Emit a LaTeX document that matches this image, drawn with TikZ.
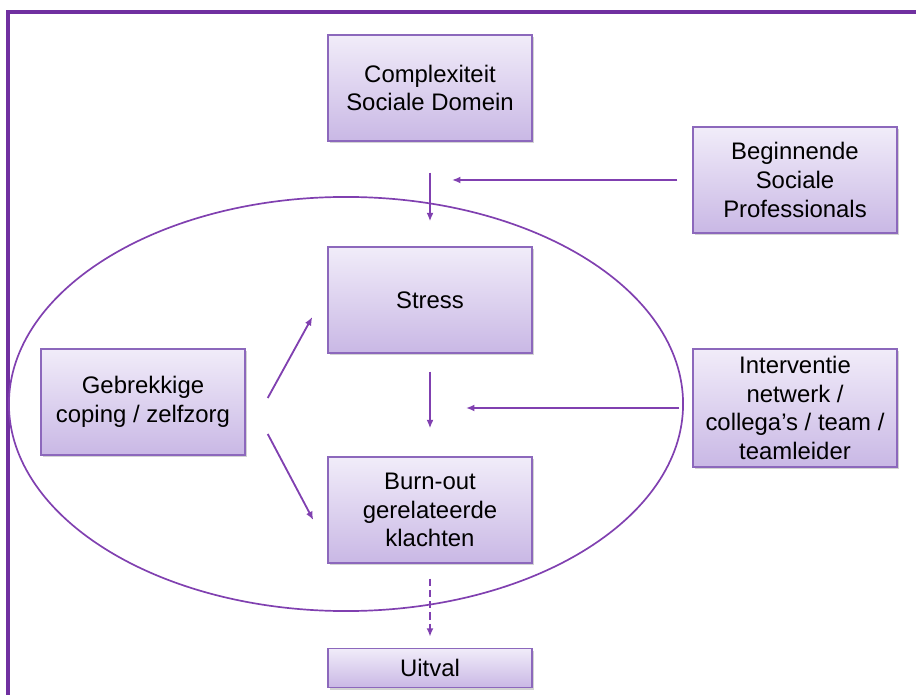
\documentclass[tikz,border=0pt]{standalone}
\usepackage{fontspec}
\setmainfont{Liberation Sans}
\usetikzlibrary{positioning,shadows,arrows.meta,calc}

\definecolor{framepurple}{RGB}{112,48,160}
\definecolor{linepurple}{RGB}{128,64,176}
\definecolor{boxborder}{RGB}{140,104,188}
\definecolor{boxtop}{RGB}{241,236,249}
\definecolor{boxbottom}{RGB}{201,184,229}

\tikzset{
  box/.style={draw=boxborder, line width=1pt, top color=boxtop, bottom color=boxbottom,
    drop shadow={shadow xshift=1.5pt, shadow yshift=-1.5pt, opacity=0.35},
    minimum width=5.1cm, minimum height=2.65cm, align=center,
    font=\fontsize{17}{20.5}\selectfont, inner sep=2pt},
  arr/.style={draw=linepurple, line width=1.3pt, -{Latex[length=6pt,width=5pt]}}
}

\begin{document}
\begin{tikzpicture}[x=0.025cm,y=-0.025cm]
\useasboundingbox (0,0) rectangle (916,695);

% outer frame (only top and left visible)
\draw[line width=2.2pt, color=framepurple](8,695) -- (8,12) -- (916,12);

% ellipse
\draw[line width=1.2pt, color=linepurple](346,404) ellipse [x radius=8.425cm, y radius=5.175cm];

% boxes
\node[box] (compl) at (430,88) {Complexiteit\\Sociale Domein};
\node[box] (begin) at (795,180) {Beginnende\\Sociale\\Professionals};
\node[box] (stress) at (430,300) {Stress};
\node[box] (geb) at (143,402) {Gebrekkige\\coping / zelfzorg};
\node[box, minimum height=2.95cm] (interv) at (795,408) {Interventie\\netwerk /\\collega\char"0027 s / team /\\teamleider};
\node[box] (burn) at (430,510) {Burn-out\\gerelateerde\\klachten};
\node[box, minimum height=0.98cm] (uitval) at (430,668) {Uitval};

% arrows
\draw[arr, shorten <=0.775cm, shorten >=0.625cm] (compl.south) -- (stress.north);
\draw[arr, shorten <=0.375cm, shorten >=0.55cm] (begin.west) -- (compl.south |- begin.west);
\draw[arr, shorten <=0.45cm, shorten >=0.7cm] (stress.south) -- (burn.north);
\draw[arr, shorten <=0.325cm, shorten >=0.9cm] (interv.west) -- (stress.south |- interv.west);
\draw[arr] ($(geb.east)+(22,-4)$) -- ($(stress.west)+(-15,17)$);
\draw[arr] ($(geb.east)+(22,32)$) -- ($(burn.west)+(-14,10)$);
\draw[arr, dashed, dash pattern=on 5pt off 3pt, shorten <=0.375cm, shorten >=0.275cm] (burn.south) -- (uitval.north);
\end{tikzpicture}
\end{document}
